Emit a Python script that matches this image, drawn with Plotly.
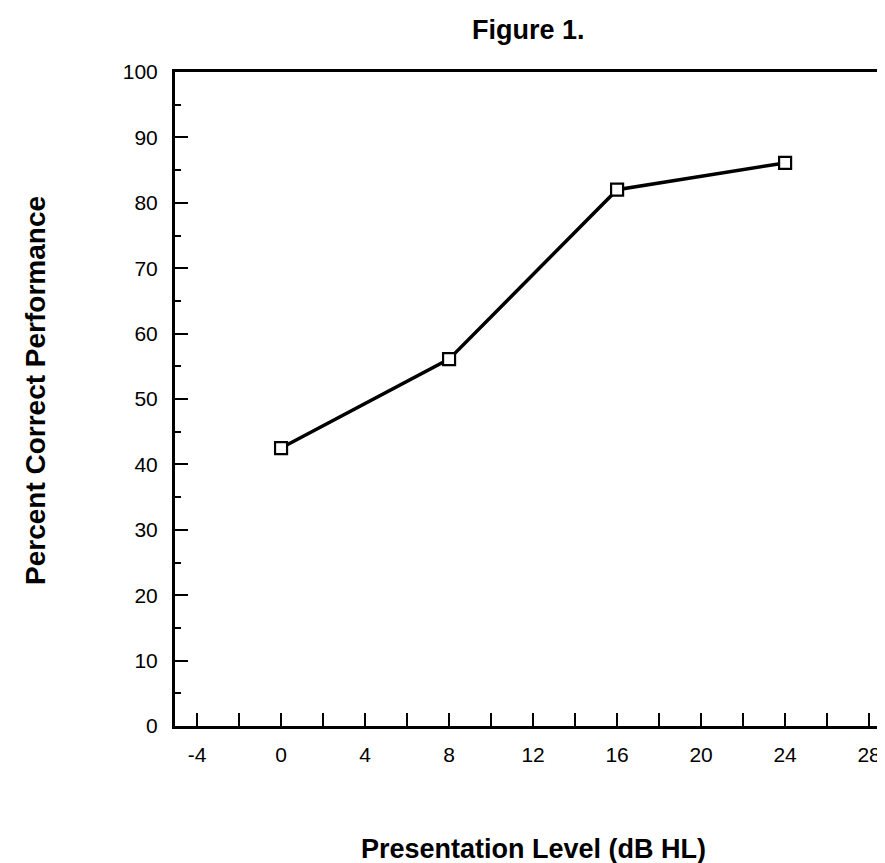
import plotly.graph_objects as go

# Data
levels_db = [0, 8, 16, 24]
percent_correct = [42.5, 56.1, 82.0, 86.1]

x_tickvals = [-4, 0, 4, 8, 12, 16, 20, 24, 28]
x_ticktext = ["-4", "0", "4", "8", "12", "16", "20", "24", "28"]
y_tickvals = [0, 10, 20, 30, 40, 50, 60, 70, 80, 90, 100]

FONT = "Liberation Sans, Arial, sans-serif"

fig = go.Figure()
fig.add_trace(go.Scatter(
    x=levels_db, y=percent_correct, mode="lines+markers",
    line=dict(color="black", width=3.5),
    marker=dict(symbol="square", size=12, color="white",
                line=dict(color="black", width=2.2)),
    showlegend=False, cliponaxis=False,
))

fig.update_layout(
    width=885, height=863, autosize=False,
    margin=dict(l=167, r=1, t=64, b=145),
    paper_bgcolor="white", plot_bgcolor="white",
    font=dict(family=FONT, color="black", size=21),
    xaxis=dict(
        range=[-5.05, 29.09], tickvals=x_tickvals, ticktext=x_ticktext,
        ticks="inside", ticklen=13, tickwidth=1.5, tickcolor="black",
        minor=dict(dtick=2, tick0=0, ticks="inside", ticklen=13, tickwidth=1.5, tickcolor="black"),
        showline=True, linecolor="black", linewidth=3, mirror=True,
        showgrid=False, zeroline=False,
        tickfont=dict(size=21, family=FONT), ticklabelstandoff=8,
    ),
    yaxis=dict(
        range=[0, 100], tickvals=y_tickvals,
        ticks="inside", ticklen=13, tickwidth=1.5, tickcolor="black",
        minor=dict(dtick=5, tick0=0, ticks="inside", ticklen=6, tickwidth=1.5, tickcolor="black"),
        showline=True, linecolor="black", linewidth=3,
        showgrid=False, zeroline=False,
        tickfont=dict(size=21, family=FONT), ticklabelstandoff=10,
    ),
    annotations=[
        dict(text="<b>Figure 1.</b>", xref="paper", yref="paper",
             x=(520 - 167) / 717, y=1 + (64 - 22) / 654, showarrow=False,
             xanchor="center", yanchor="middle", font=dict(size=27, family=FONT)),
        dict(text="<b>Percent Correct Performance</b>", xref="paper", yref="paper",
             x=(27 - 167) / 717, y=(718 - 383) / 654, showarrow=False, textangle=-90,
             xanchor="center", yanchor="middle", font=dict(size=28, family=FONT)),
        dict(text="<b>Presentation Level (dB HL)</b>", xref="paper", yref="paper",
             x=(525 - 167) / 717, y=(718 - 841) / 654, showarrow=False,
             xanchor="center", yanchor="middle", font=dict(size=27, family=FONT)),
    ],
    shapes=[
        dict(type="line", xref="paper", yref="paper", x0=1, x1=1, y0=0, y1=1,
             line=dict(color="#cccccc", width=1, dash="dot")),
    ],
)

fig.write_html("out.html")
